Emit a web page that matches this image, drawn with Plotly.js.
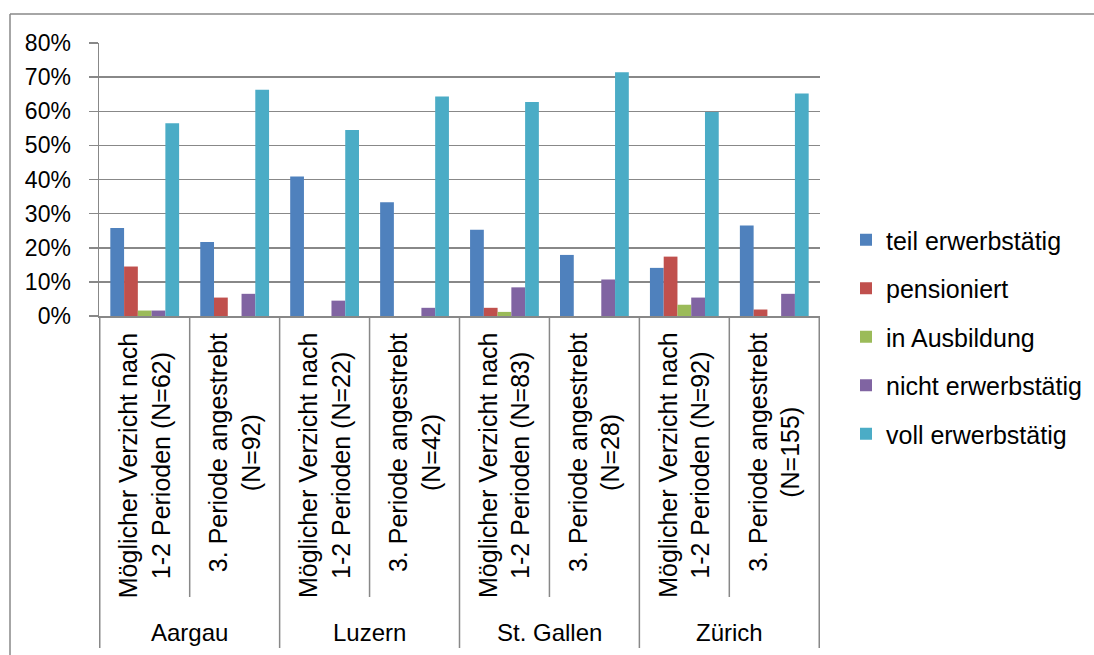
<!DOCTYPE html>
<html>
<head>
<meta charset="utf-8">
<script src="https://cdn.plot.ly/plotly-3.0.1.min.js"></script>
<style>
  html, body { margin: 0; padding: 0; background: #ffffff; }
  #chart { width: 1094px; height: 655px; }
</style>
</head>
<body>
<div id="chart"></div>
<script>
// ---- data (percent) ----
const groups = ["Aargau", "Luzern", "St. Gallen", "Zürich"];
const periodLine1 = ["Möglicher Verzicht nach", "3. Periode angestrebt"];
const periodLine2 = ["1-2 Perioden", ""];
const nValues = [62, 92, 22, 42, 83, 28, 92, 155];

const seriesNames = ["teil erwerbstätig", "pensioniert", "in Ausbildung", "nicht erwerbstätig", "voll erwerbstätig"];
const teilErwerbstaetig  = [25.8, 21.7, 40.9, 33.3, 25.3, 17.9, 14.1, 26.5];
const pensioniert        = [14.5,  5.4,  0.0,  0.0,  2.4,  0.0, 17.4,  1.9];
const inAusbildung       = [ 1.6,  0.0,  0.0,  0.0,  1.2,  0.0,  3.3,  0.0];
const nichtErwerbstaetig = [ 1.6,  6.5,  4.5,  2.4,  8.4, 10.7,  5.4,  6.5];
const vollErwerbstaetig  = [56.5, 66.3, 54.5, 64.3, 62.7, 71.4, 59.8, 65.2];

const seriesColors = ["#4F81BD", "#C0504D", "#9BBB59", "#8064A2", "#4BACC6"];
const seriesValues = [teilErwerbstaetig, pensioniert, inAusbildung, nichtErwerbstaetig, vollErwerbstaetig];

// ---- build categories ----
const catKeys = [];
const catTexts = [];
groups.forEach((g, gi) => {
  for (let p = 0; p < 2; p++) {
    const idx = gi * 2 + p;
    catKeys.push(g + " | " + periodLine1[p] + " | " + idx);
    const n = "(N=" + nValues[idx] + ")";
    const l2 = periodLine2[p] ? periodLine2[p] + " " + n : n;
    catTexts.push(periodLine1[p] + "<br>" + l2);
  }
});

const FONT = "Liberation Sans, Arial, sans-serif";
const GRID = "#888888";

const traces = seriesNames.map((name, i) => ({
  type: "bar",
  name: name,
  x: catKeys,
  y: seriesValues[i],
  legendgroup: "g" + i,
  marker: { color: seriesColors[i], line: { width: 0 } },
  hoverinfo: "skip"
}));

// plot geometry (pixels) for paper conversions
const W = 1094, H = 655, L = 99, R = 274, T = 43, B = 339;
const pw = W - L - R, ph = H - T - B;
const px2x = px => (px - L) / pw;
const py2y = py => (H - B - py) / ph;

const annotations = [];
catTexts.forEach((t, i) => {
  annotations.push({
    xref: "x", yref: "paper", x: i, y: py2y(331),
    xanchor: "center", yanchor: "top",
    text: t, showarrow: false, textangle: -90, align: "center",
    font: { family: FONT, size: 25, color: "#000" }
  });
});
groups.forEach((g, gi) => {
  annotations.push({
    xref: "x", yref: "paper", x: gi * 2 + 0.5, y: py2y(632),
    xanchor: "center", yanchor: "middle",
    text: g, showarrow: false,
    font: { family: FONT, size: 24, color: "#000" }
  });
});

const shapes = [];
for (let k = 0; k <= 8; k++) {
  const isGroup = (k % 2 === 0);
  shapes.push({
    type: "line", xref: "x", yref: "paper",
    x0: k - 0.5, x1: k - 0.5, y0: 0, y1: py2y(isGroup ? 648 : 597),
    line: { color: GRID, width: 1.5 }
  });
}
// outer chart border (left and top)
shapes.push({ type: "line", xref: "paper", yref: "paper",
  x0: px2x(10), x1: px2x(10), y0: py2y(14), y1: py2y(656),
  line: { color: GRID, width: 1.5 } });
shapes.push({ type: "line", xref: "paper", yref: "paper",
  x0: px2x(10), x1: px2x(1095), y0: py2y(14), y1: py2y(14),
  line: { color: GRID, width: 1.5 } });

const layout = {
  width: W, height: H,
  margin: { l: L, r: R, t: T, b: B, pad: 0, autoexpand: false },
  paper_bgcolor: "#ffffff",
  plot_bgcolor: "#ffffff",
  font: { family: FONT, color: "#000" },
  barmode: "group",
  bargap: 0.235,
  bargroupgap: 0,
  showlegend: true,
  legend: {
    xref: "container", yref: "container",
    x: 846 / W, xanchor: "left",
    y: 1 - 337 / H, yanchor: "middle",
    traceorder: "grouped",
    tracegroupgap: 13,
    font: { family: FONT, size: 25, color: "#000" },
    bgcolor: "rgba(0,0,0,0)"
  },
  xaxis: {
    type: "category",
    categoryorder: "array",
    categoryarray: catKeys,
    showticklabels: false,
    ticks: "",
    showgrid: false,
    showline: true, linecolor: GRID, linewidth: 1.5,
    zeroline: false,
    fixedrange: true
  },
  yaxis: {
    range: [0, 80],
    dtick: 10,
    ticksuffix: "%",
    showgrid: true, gridcolor: GRID, gridwidth: 1.5,
    showline: true, linecolor: GRID, linewidth: 1.5,
    zeroline: false,
    ticks: "outside", ticklen: 9, tickcolor: GRID, tickwidth: 1.5,
    ticklabelstandoff: 13,
    tickfont: { family: FONT, size: 23, color: "#000" },
    fixedrange: true
  },
  annotations: annotations,
  shapes: shapes
};

Plotly.newPlot("chart", traces, layout, { displayModeBar: false, staticPlot: true });
</script>
</body>
</html>
